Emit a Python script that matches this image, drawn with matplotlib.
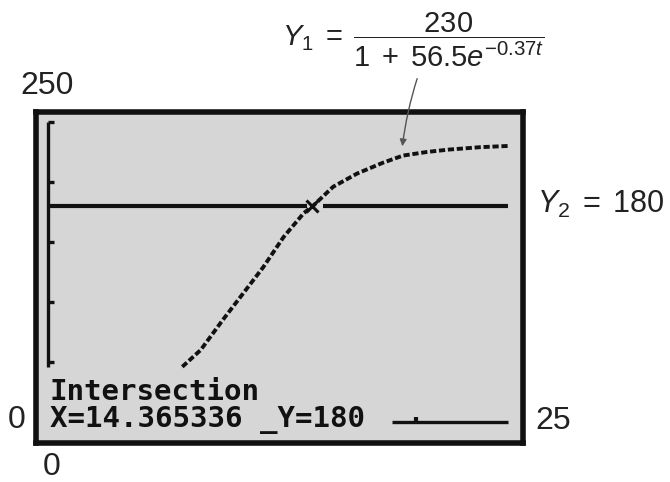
import matplotlib
matplotlib.use("Agg")
import matplotlib.pyplot as plt
from matplotlib.patches import FancyArrowPatch

plt.rcParams['mathtext.fontset'] = 'custom'
plt.rcParams['mathtext.rm'] = 'Liberation Sans'
plt.rcParams['mathtext.it'] = 'Liberation Sans:italic'
plt.rcParams['font.family'] = ['Liberation Sans', 'DejaVu Sans']

# ---- data ----
t_vals = [7.3, 8.3, 9.5, 10.6, 11.7, 12.8, 13.9, 14.4, 15.5, 16.8, 18.2, 19.3, 20.6, 21.8, 23.5, 25.0]
y1_vals = [46, 60, 85, 107, 129, 154, 174, 180, 196, 207, 216, 222, 225, 227, 229, 230]
y2_value = 180
x_int = 14.365336
y_ticks = [50, 100, 150, 200, 250]
x_ticks = [20]
x_min, x_max = 0, 25
y_min, y_max = 0, 250

W, H = 670, 482
fig = plt.figure(figsize=(W / 100, H / 100), dpi=100)

# axes = calculator screen box (pixels 36..523 x 112..443)
ax = fig.add_axes([36 / W, 1 - 443 / H, 487 / W, 331 / H])
ax.set_xlim(-0.652, 25.82)
ax.set_ylim(-17.5, 258.3)
ax.set_facecolor('#d6d6d6')
for s in ax.spines.values():
    s.set_linewidth(4.0)
    s.set_color('#111111')
ax.set_xticks([])
ax.set_yticks([])

lw_axis = 2.4
# y axis (visible above the text block) with ticks
ax.plot([0, 0], [46, 250], color='#111111', lw=lw_axis, solid_capstyle='butt')
for yt in y_ticks:
    ax.plot([0, 0.35], [yt, yt], color='#111111', lw=lw_axis, solid_capstyle='butt')
# x axis (visible part at the right of the text)
ax.plot([18.7, 25], [0, 0], color='#111111', lw=lw_axis, solid_capstyle='butt')
for xt in x_ticks:
    ax.plot([xt, xt], [0, 4.5], color='#111111', lw=3.0, solid_capstyle='butt')

# Y2 = 180 horizontal line (broken around the cursor)
ax.plot([0, x_int - 0.3], [y2_value, y2_value], color='#111111', lw=3.0, solid_capstyle='butt')
ax.plot([x_int + 0.6, x_max], [y2_value, y2_value], color='#111111', lw=3.0, solid_capstyle='butt')

# Y1 logistic curve
ax.plot(t_vals, y1_vals, color='#111111', lw=2.8, linestyle=(0, (1.6, 0.7)))

# intersection cursor
ax.plot([x_int], [y2_value], marker='x', markersize=9, mew=2.2, color='#111111')

# screen text
mono = dict(family='DejaVu Sans Mono', fontweight='bold', fontsize=21, color='#111111')
fig.text(50 / W, 1 - 400 / H, 'Intersection', ha='left', va='baseline', **mono)
fig.text(50 / W, 1 - 427 / H, 'X=14.365336 _Y=180', ha='left', va='baseline', **mono)

# outside labels
lab = dict(fontsize=23, color='#222222')
fig.text(47 / W, 1 - 86 / H, '250', ha='center', va='center', **lab)
fig.text(17 / W, 1 - 420 / H, '0', ha='center', va='center', **lab)
fig.text(52 / W, 1 - 467 / H, '0', ha='center', va='center', **lab)
fig.text(553 / W, 1 - 421 / H, '25', ha='center', va='center', **lab)

fig.text(537 / W, 1 - 213 / H, r'$Y_2\;=\;180$', ha='left', va='baseline',
         fontsize=22, color='#222222')
fig.text(282 / W, 1 - 40 / H, r'$Y_1\;=\;\dfrac{230}{1\;+\;56.5e^{-0.37t}}$',
         ha='left', va='center', fontsize=21, color='#222222')

# arrow from formula to curve
arr = FancyArrowPatch((418 / W, 1 - 76 / H), (402 / W, 1 - 149 / H),
                      transform=fig.transFigure, arrowstyle='-|>', mutation_scale=10,
                      color='#555555', lw=1.0, connectionstyle='arc3,rad=0.05')
fig.add_artist(arr)

fig.savefig('out.png', dpi=100)
